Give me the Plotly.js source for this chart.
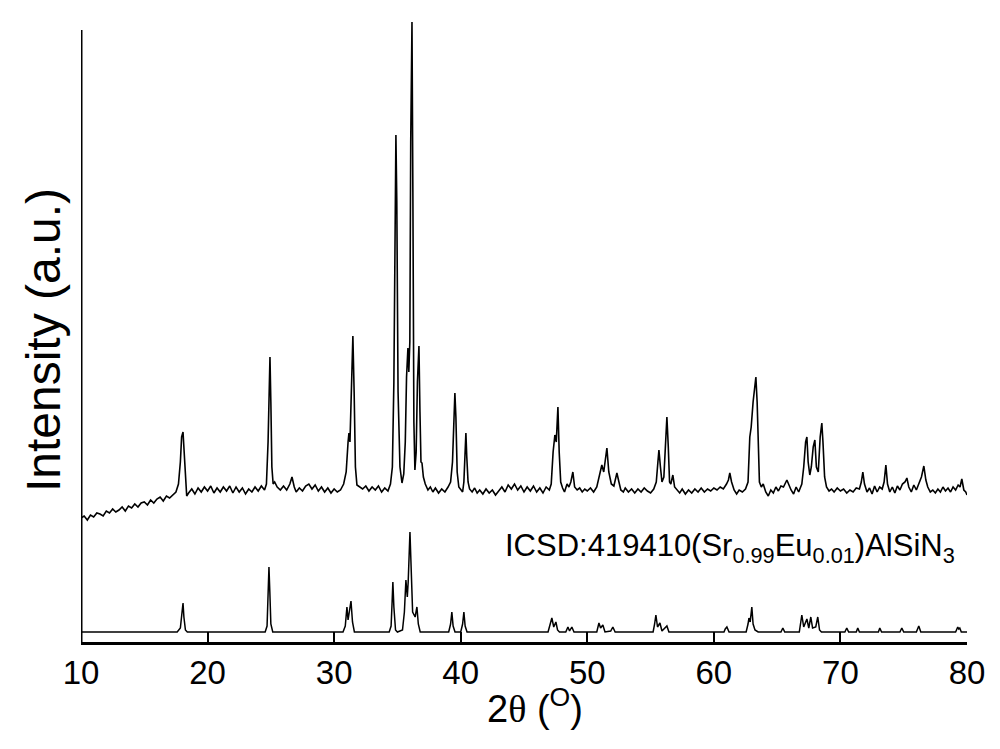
<!DOCTYPE html>
<html>
<head>
<meta charset="utf-8">
<script src="https://cdn.plot.ly/plotly-3.0.1.min.js"></script>
<style>html,body{margin:0;padding:0;background:#fff;}#chart{width:1000px;height:749px;}</style>
</head>
<body>
<div id="chart"></div>
<script>
// Measured XRD pattern (2θ in degrees, intensity in arbitrary units)
const expTheta = [10.0,10.25,10.5,10.75,11.0,11.25,11.5,11.75,12.0,12.25,12.5,12.75,13.0,13.25,13.5,13.75,14.0,14.25,14.5,14.75,15.0,15.25,15.5,15.75,16.0,16.25,16.5,16.75,17.0,17.25,17.5,17.7,17.85,17.95,18.06,18.15,18.25,18.35,18.5,18.75,19.0,19.25,19.5,19.75,20.0,20.25,20.5,20.75,21.0,21.25,21.5,21.75,22.0,22.25,22.5,22.75,23.0,23.25,23.5,23.75,24.0,24.25,24.5,24.65,24.78,24.88,24.93,25.0,25.08,25.18,25.3,25.5,25.75,26.0,26.25,26.5,26.67,26.85,27.0,27.25,27.5,27.75,28.0,28.25,28.5,28.75,29.0,29.25,29.5,29.75,30.0,30.25,30.5,30.75,30.95,31.1,31.17,31.25,31.35,31.48,31.58,31.68,31.8,32.0,32.25,32.5,32.75,33.0,33.25,33.5,33.75,34.0,34.25,34.45,34.6,34.72,34.82,34.88,34.95,35.05,35.2,35.36,35.5,35.62,35.72,35.78,35.83,35.9,35.98,36.05,36.15,36.22,36.3,36.38,36.48,36.58,36.7,36.78,36.86,36.94,37.05,37.2,37.41,37.6,37.8,38.0,38.25,38.5,38.75,39.0,39.2,39.35,39.45,39.54,39.62,39.72,39.85,40.0,40.15,40.25,40.33,40.41,40.48,40.58,40.7,40.9,41.1,41.3,41.5,41.75,42.0,42.25,42.5,42.75,43.0,43.25,43.5,43.75,44.0,44.25,44.5,44.75,45.0,45.25,45.5,45.75,46.0,46.25,46.5,46.75,47.0,47.15,47.3,47.44,47.55,47.68,47.78,47.9,48.05,48.2,48.4,48.55,48.7,48.86,49.0,49.2,49.4,49.6,49.8,50.0,50.25,50.5,50.75,50.95,51.15,51.3,51.45,51.55,51.7,51.9,52.1,52.34,52.5,52.65,52.85,53.0,53.25,53.5,53.75,54.0,54.25,54.5,54.75,55.0,55.25,55.45,55.58,55.66,55.78,55.9,56.05,56.18,56.29,56.4,56.5,56.6,56.76,56.9,57.1,57.3,57.5,57.75,58.0,58.25,58.5,58.75,59.0,59.25,59.5,59.75,60.0,60.25,60.5,60.75,61.0,61.15,61.26,61.4,61.6,61.8,62.0,62.25,62.5,62.7,62.84,62.95,63.1,63.25,63.32,63.42,63.5,63.6,63.75,63.9,64.1,64.3,64.5,64.7,64.9,65.1,65.3,65.5,65.77,65.9,66.1,66.3,66.5,66.7,66.95,67.1,67.25,67.35,67.45,67.58,67.7,67.85,67.98,68.1,68.25,68.4,68.53,68.62,68.75,68.9,69.1,69.3,69.5,69.75,70.0,70.25,70.5,70.75,71.0,71.25,71.5,71.65,71.77,71.9,72.1,72.3,72.5,72.7,72.9,73.1,73.3,73.45,73.59,73.72,73.9,74.1,74.3,74.5,74.7,74.9,75.1,75.25,75.4,75.6,75.8,76.0,76.2,76.4,76.59,76.75,76.9,77.1,77.3,77.5,77.7,77.9,78.1,78.3,78.5,78.7,78.9,79.1,79.3,79.45,79.59,79.75,79.9,80.0];
const expIntensity = [124,126,122,127,125,129,128,126,131,129,133,130,132,135,131,136,134,138,135,139,140,137,142,139,143,145,141,146,144,147,150,158,180,205,210,190,160,146,149,153,148,154,150,155,151,156,149,154,150,155,151,156,149,155,150,154,148,153,150,155,151,156,152,158,200,270,285,240,175,158,160,155,152,156,152,158,165,155,150,154,151,156,158,153,157,151,155,150,154,149,153,150,152,158,170,200,209,200,240,306,250,175,157,155,153,156,151,155,152,156,150,154,151,158,175,260,470,507,440,250,175,159,168,200,265,285,294,270,300,500,620,450,220,172,190,260,296,230,180,179,165,158,152,155,150,154,149,153,150,155,160,180,225,249,225,170,155,152,150,160,195,209,185,160,153,150,154,149,152,148,153,149,152,147,151,155,150,157,153,158,152,156,150,155,151,156,150,154,149,155,152,158,190,207,200,235,190,160,154,150,158,155,160,170,155,152,154,150,153,151,154,150,155,165,177,170,185,194,170,158,156,169,160,152,150,154,150,153,149,153,150,154,151,149,153,160,180,192,175,160,165,205,225,195,160,158,167,155,152,149,153,148,152,149,153,150,154,150,153,151,154,152,155,153,158,162,169,160,152,148,152,150,153,160,205,215,240,262,265,240,190,160,155,158,150,146,152,149,155,151,156,155,162,158,152,148,155,150,158,175,200,205,180,167,175,195,202,175,170,205,219,200,165,155,151,153,150,154,151,153,149,152,150,154,153,160,170,158,150,154,148,156,150,155,153,160,177,158,150,155,149,156,152,158,160,164,155,150,157,152,158,165,176,162,155,150,152,149,153,150,155,151,154,150,155,152,157,155,163,152,150,147];

// Reference pattern ICSD 419410 (Sr0.99Eu0.01)AlSiN3
const refTheta = [10,17.6,17.85,17.95,18.06,18.13,18.25,18.4,24.55,24.7,24.78,24.85,24.92,25.0,25.15,30.7,30.88,31.01,31.1,31.2,31.33,31.45,31.6,34.35,34.5,34.58,34.64,34.72,34.85,35.0,35.4,35.55,35.67,35.78,35.85,35.99,36.1,36.2,36.4,36.54,36.65,36.8,39.05,39.2,39.3,39.4,39.55,40.0,40.15,40.25,40.35,40.5,46.9,47.05,47.2,47.35,47.52,47.65,47.8,48.3,48.47,48.6,48.78,48.95,50.75,50.92,51.05,51.23,51.4,51.85,52.02,52.2,55.2,55.32,55.42,55.55,55.74,55.9,56.29,56.45,60.8,60.9,61.03,61.2,62.55,62.7,62.77,62.87,63.0,63.1,63.25,63.5,65.3,65.45,65.6,66.75,66.85,66.95,67.1,67.35,67.5,67.66,67.8,68.05,68.21,68.35,68.5,70.35,70.5,70.65,71.25,71.37,71.5,73.0,73.11,73.25,74.7,74.85,75.0,76.0,76.19,76.35,79.1,79.27,79.35,79.43,79.55,80];
const refIntensity = [10,10,14,30,39,25,12,10,10,16,45,75,50,18,10,10,16,35,22,30,41,20,10,10,16,40,60,35,12,10,12,30,62,45,60,110,60,30,25,35,18,10,10,18,30,16,10,10,18,30,16,10,10,16,24,15,20,12,10,10,15,11,15,10,10,19,14,17,10,11,15,10,10,18,27,15,19,11,16,10,10,13,15,10,10,18,24,20,35,18,12,10,10,14,10,10,18,27,15,23,14,25,14,15,25,12,10,10,14,10,10,14,10,10,14,10,10,14,10,10,16,10,10,15,13,14,10,10];

const xTitle = '2<span style="font-family:Liberation Serif">θ</span> (<sup>O</sup>)';
const yTitle = 'Intensity (a.u.)';
const refLabel = 'ICSD:419410(Sr<sub>0.99</sub>Eu<sub>0.01</sub>)AlSiN<sub>3</sub>';

const FONT = 'Liberation Sans, Arial, sans-serif';

const traces = [
  {x: expTheta, y: expIntensity, type: 'scatter', mode: 'lines',
   line: {color: '#000', width: 1.6}, hoverinfo: 'skip', showlegend: false},
  {x: refTheta, y: refIntensity, type: 'scatter', mode: 'lines',
   line: {color: '#000', width: 1.5}, hoverinfo: 'skip', showlegend: false}
];

const layout = {
  width: 1000, height: 749,
  margin: {l: 81, r: 33, t: 22, b: 107},
  paper_bgcolor: '#fff', plot_bgcolor: '#fff',
  showlegend: false,
  font: {family: FONT, size: 33, color: '#000'},
  xaxis: {
    range: [10, 80], tickmode: 'linear', tick0: 10, dtick: 10,
    ticks: 'inside', ticklen: 10, tickwidth: 2, tickcolor: '#000',
    showline: true, linewidth: 2.5, linecolor: '#000',
    showgrid: false, zeroline: false,
    tickfont: {family: FONT, size: 33, color: '#000'}
  },
  yaxis: {
    range: [0, 620], showline: false, showticklabels: false, ticks: '',
    showgrid: false, zeroline: false
  },
  shapes: [
    {type: 'line', xref: 'x', yref: 'y', x0: 10, x1: 10, y0: 0, y1: 612,
     line: {color: '#000', width: 3}}
  ],
  annotations: [
    {text: refLabel, xref: 'x', yref: 'y', x: 79.2, y: 94, xanchor: 'right', yanchor: 'middle',
     showarrow: false, font: {family: FONT, size: 31, color: '#000'}},
    {text: xTitle, xref: 'paper', yref: 'paper', x: 0.512, y: -0.103, xanchor: 'center', yanchor: 'middle',
     showarrow: false, font: {family: FONT, size: 38, color: '#000'}},
    {text: yTitle, xref: 'paper', yref: 'paper', x: 0, y: 0.487, xshift: -38, xanchor: 'center', yanchor: 'middle',
     textangle: -90, showarrow: false, font: {family: FONT, size: 48, color: '#000'}}
  ]
};

Plotly.newPlot('chart', traces, layout, {displayModeBar: false});
</script>
</body>
</html>
